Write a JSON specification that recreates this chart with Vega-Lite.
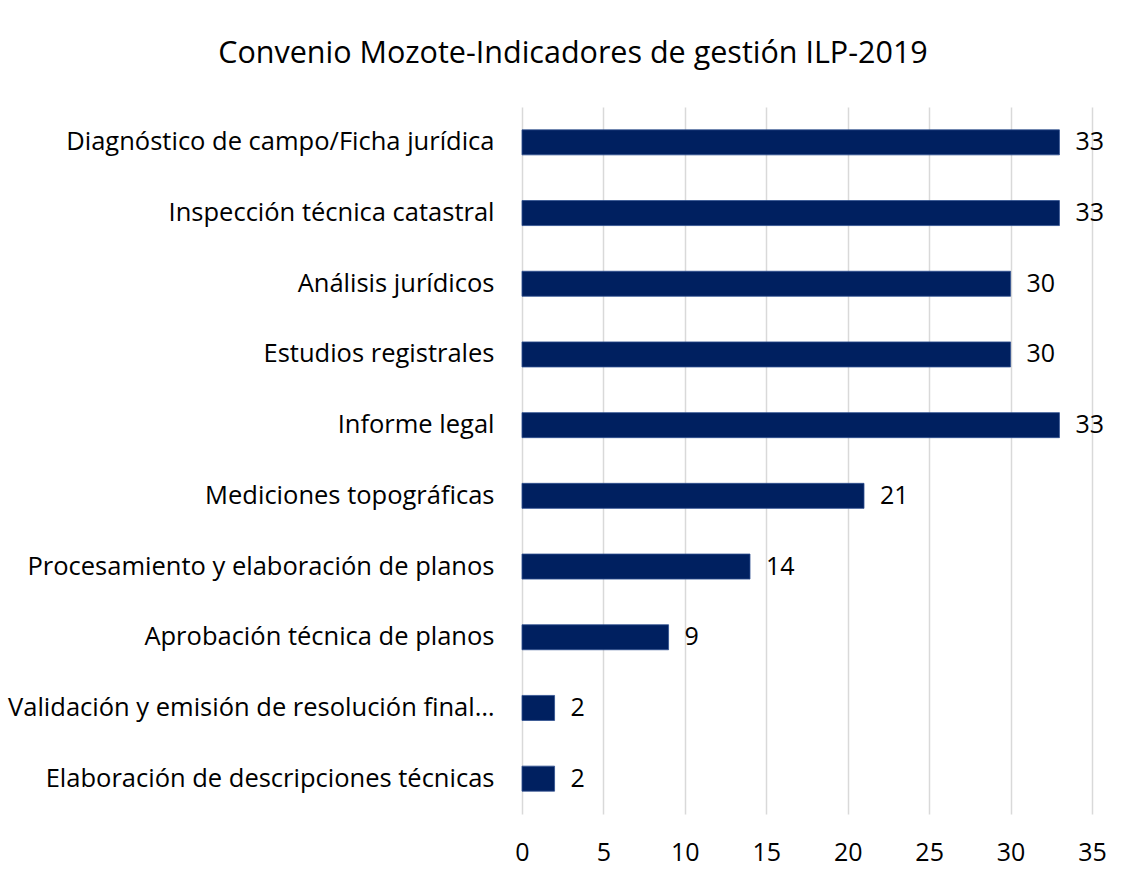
{
  "$schema": "https://vega.github.io/schema/vega-lite/v6.json",
  "autosize": "none",
  "width": 570,
  "height": 707,
  "padding": {"left": 522, "top": 107, "right": 38, "bottom": 66},
  "background": "white",
  "title": {
    "text": "Convenio Mozote-Indicadores de gestión ILP-2019",
    "font": "Open Sans",
    "fontSize": 30.5,
    "fontWeight": "normal",
    "color": "#000000",
    "anchor": "middle",
    "dx": -234,
    "offset": 38
  },
  "data": {
    "values": [
      {"actividad": "Diagnóstico de campo/Ficha jurídica", "valor": 33},
      {"actividad": "Inspección técnica catastral", "valor": 33},
      {"actividad": "Análisis jurídicos", "valor": 30},
      {"actividad": "Estudios registrales", "valor": 30},
      {"actividad": "Informe legal", "valor": 33},
      {"actividad": "Mediciones topográficas", "valor": 21},
      {"actividad": "Procesamiento y elaboración de planos", "valor": 14},
      {"actividad": "Aprobación técnica de planos", "valor": 9},
      {"actividad": "Validación y emisión de resolución final…", "valor": 2},
      {"actividad": "Elaboración de descripciones técnicas", "valor": 2}
    ]
  },
  "encoding": {
    "y": {
      "field": "actividad",
      "type": "nominal",
      "sort": null,
      "title": null,
      "scale": {"paddingInner": 0.646, "paddingOuter": 0.323},
      "axis": {
        "domain": false,
        "ticks": false,
        "labelFont": "Open Sans",
        "labelFontSize": 25.5,
        "labelColor": "#000000",
        "labelPadding": 28,
        "labelLimit": 700
      }
    },
    "x": {
      "field": "valor",
      "type": "quantitative",
      "title": null,
      "scale": {"domain": [0, 35], "nice": false},
      "axis": {
        "values": [0, 5, 10, 15, 20, 25, 30, 35],
        "domain": false,
        "ticks": false,
        "grid": true,
        "gridColor": "#d9d9d9",
        "gridWidth": 1.5,
        "labelFont": "Open Sans",
        "labelFontSize": 25,
        "labelColor": "#000000",
        "labelPadding": 26,
        "labelFlush": false
      }
    }
  },
  "layer": [
    {"mark": {"type": "bar", "color": "#002060", "stroke": "#2f4f8f", "strokeWidth": 0.8}},
    {
      "mark": {"type": "text", "align": "left", "baseline": "middle", "dx": 16, "font": "Open Sans", "fontSize": 25, "color": "#000000"},
      "encoding": {"text": {"field": "valor", "type": "quantitative"}}
    }
  ],
  "config": {"view": {"stroke": null}}
}
